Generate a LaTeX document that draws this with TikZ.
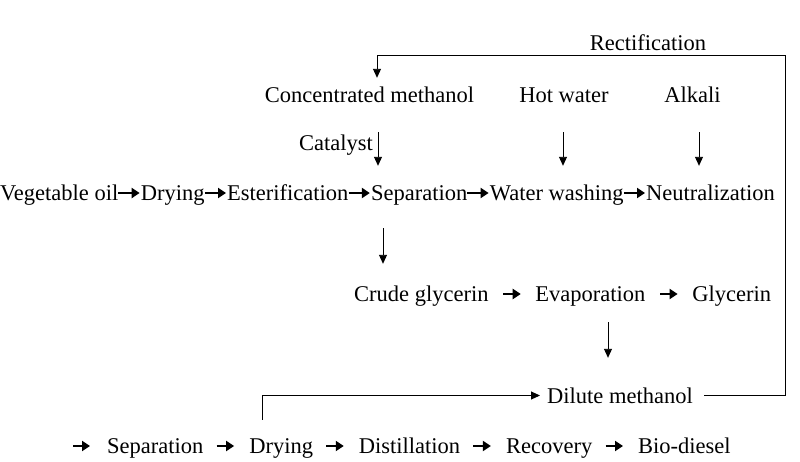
\documentclass[tikz,border=0pt]{standalone}
\usepackage{fontspec}
\setmainfont{Liberation Serif}
\usetikzlibrary{arrows.meta,positioning}

\begin{document}
\begin{tikzpicture}[x=1pt,y=-1pt,
  word/.style={inner sep=0pt,text height=15pt,text depth=1pt,font=\fontsize{22.5}{27}\selectfont},
  flow/.style={line width=2pt,-{Triangle[length=8pt,width=10pt]}},
  vflow/.style={line width=0.9pt,-{Triangle[length=9pt,width=8pt]}}]
\useasboundingbox (0,0) rectangle (800,461);
% inputs on top
\node[word,anchor=base] (rect) at (648,50) {Rectification};
\node[word,anchor=base] (conc) at (369.5,102) {Concentrated methanol};
\node[word,anchor=base] (hot) at (564,102) {Hot water};
\node[word,anchor=base] (alk) at (692.5,102) {Alkali};
\node[word,anchor=base east] (cat) at (373,150) {Catalyst};
% main line
\node[word,anchor=base west] (veg) at (0,200) {Vegetable oil};
\node[word,right=22.2pt of veg] (dry) {Drying};
\node[word,right=22.2pt of dry] (ester) {Esterification};
\node[word,right=22.2pt of ester] (sep) {Separation};
\node[word,right=22.2pt of sep] (wash) {Water washing};
\node[word,right=22.2pt of wash] (neut) {Neutralization};
\foreach \a/\b in {veg/dry,dry/ester,ester/sep,sep/wash,wash/neut}
  \draw[flow,shorten >=1pt] (\a) -- (\b);
% glycerin line
\node[word,anchor=base west] (crude) at (354,301) {Crude glycerin};
\node[word,right=46.5pt of crude] (evap) {Evaporation};
\node[word,right=46.5pt of evap] (gly) {Glycerin};
\foreach \a/\b in {crude/evap,evap/gly}
  \draw[flow,shorten <=14.5pt,shorten >=14.5pt] (\a) -- (\b);
\node[word,anchor=base west,text depth=0pt] (dil) at (547,403) {Dilute methanol};
% bio-diesel line
\coordinate (wrap) at (73,446);
\node[word,anchor=base west] (sepb) at (107,453) {Separation};
\node[word,right=45.5pt of sepb] (dryb) {Drying};
\node[word,right=45.5pt of dryb] (dist) {Distillation};
\node[word,right=45.5pt of dist] (rec) {Recovery};
\node[word,right=45.5pt of rec] (bio) {Bio-diesel};
\draw[flow,shorten >=17pt] (wrap) -- (sepb);
\foreach \a/\b in {sepb/dryb,dryb/dist,dist/rec,rec/bio}
  \draw[flow,shorten <=13pt,shorten >=15pt] (\a) -- (\b);
% feeds
\draw[vflow,shorten <=29pt,shorten >=19pt] (conc.south -| 378,0) -- (sep.north -| 378,0);
\draw[vflow,shorten <=29pt,shorten >=19pt] (hot.south -| 563,0) -- (wash.north -| 563,0);
\draw[vflow,shorten <=29pt,shorten >=19pt] (alk.south -| 699,0) -- (neut.north -| 699,0);
\draw[vflow,shorten <=27pt,shorten >=22pt] (sep.south -| 383,0) -- (crude.north -| 383,0);
\draw[vflow,shorten <=20pt,shorten >=30pt] (evap.south -| 608,0) -- (dil.north -| 608,0);
% methanol loop
\draw[vflow,shorten <=11pt,shorten >=9pt] (dil.east) -| (785,55) -| (conc.north -| 377,0);
\draw[vflow,shorten <=18pt,shorten >=7pt] (dryb.north -| 262,0) |- (dil.west);
\end{tikzpicture}
\end{document}
